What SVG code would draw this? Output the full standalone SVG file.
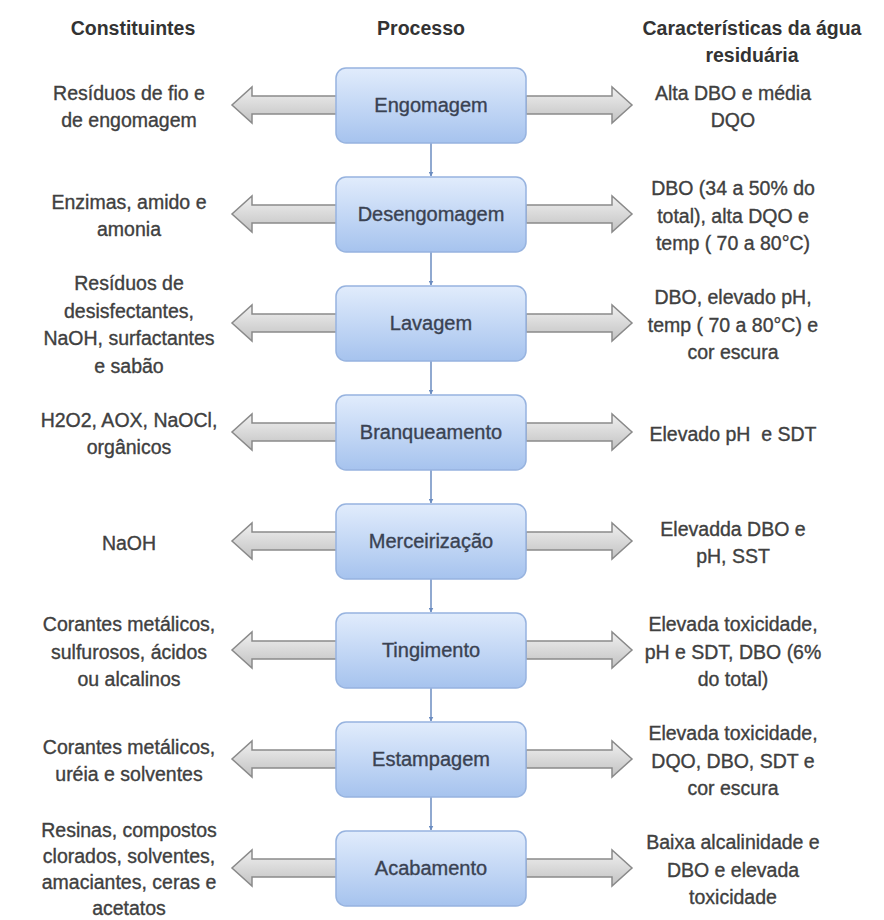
<svg xmlns="http://www.w3.org/2000/svg" width="884" height="920" viewBox="0 0 884 920">
<defs>
<linearGradient id="boxg" x1="0" y1="0" x2="0" y2="1">
<stop offset="0" stop-color="#e1ecfc"/>
<stop offset="1" stop-color="#a6c3ee"/>
</linearGradient>
<linearGradient id="arrg" x1="0" y1="0" x2="0" y2="1">
<stop offset="0" stop-color="#f0f0f0"/>
<stop offset="1" stop-color="#c2c2c2"/>
</linearGradient>
<marker id="ah" viewBox="0 0 10 10" refX="9" refY="5" markerWidth="5" markerHeight="5" orient="auto" markerUnits="userSpaceOnUse">
<path d="M0,0 L10,5 L0,10 z" fill="#6b8cc0"/>
</marker>
<style>
.box{fill:url(#boxg);stroke:#97b3df;stroke-width:1.5}
.arr{fill:url(#arrg);stroke:#8a8a8a;stroke-width:1.5;stroke-linejoin:miter}
.hd{font-family:"Liberation Sans",Arial,sans-serif;font-size:19.5px;font-weight:bold;fill:#333;text-anchor:middle}
.t{font-family:"Liberation Sans",Arial,sans-serif;font-size:19.5px;fill:#404040;stroke:#404040;stroke-width:0.35;text-anchor:middle}
.bt{font-family:"Liberation Sans",Arial,sans-serif;font-size:20px;fill:#3a4252;stroke:#3a4252;stroke-width:0.35;text-anchor:middle}
.con{stroke:#6b8cc0;stroke-width:1.5;fill:none}
</style>
</defs>
<rect width="884" height="920" fill="#ffffff"/>

<g id="headers">
<text class="hd" x="133" y="35">Constituintes</text>
<text class="hd" x="421" y="35">Processo</text>
<text class="hd" x="752" y="35">Características da água</text>
<text class="hd" x="752" y="62">residuária</text>
</g>

<g id="connectors">
<line class="con" x1="431" y1="143" x2="431" y2="176" marker-end="url(#ah)"/>
<line class="con" x1="431" y1="252" x2="431" y2="285" marker-end="url(#ah)"/>
<line class="con" x1="431" y1="361" x2="431" y2="394" marker-end="url(#ah)"/>
<line class="con" x1="431" y1="470" x2="431" y2="503" marker-end="url(#ah)"/>
<line class="con" x1="431" y1="579" x2="431" y2="612" marker-end="url(#ah)"/>
<line class="con" x1="431" y1="688" x2="431" y2="721" marker-end="url(#ah)"/>
<line class="con" x1="431" y1="797" x2="431" y2="830" marker-end="url(#ah)"/>
<polygon class="arr" points="337,96 252,96 252,87 232,105 252,123 252,114 337,114"/>
<polygon class="arr" points="526,96 612,96 612,87 632,105 612,123 612,114 526,114"/>
<polygon class="arr" points="337,205 252,205 252,196 232,214 252,232 252,223 337,223"/>
<polygon class="arr" points="526,205 612,205 612,196 632,214 612,232 612,223 526,223"/>
<polygon class="arr" points="337,314 252,314 252,305 232,323 252,341 252,332 337,332"/>
<polygon class="arr" points="526,314 612,314 612,305 632,323 612,341 612,332 526,332"/>
<polygon class="arr" points="337,423 252,423 252,414 232,432 252,450 252,441 337,441"/>
<polygon class="arr" points="526,423 612,423 612,414 632,432 612,450 612,441 526,441"/>
<polygon class="arr" points="337,532 252,532 252,523 232,541 252,559 252,550 337,550"/>
<polygon class="arr" points="526,532 612,532 612,523 632,541 612,559 612,550 526,550"/>
<polygon class="arr" points="337,641 252,641 252,632 232,650 252,668 252,659 337,659"/>
<polygon class="arr" points="526,641 612,641 612,632 632,650 612,668 612,659 526,659"/>
<polygon class="arr" points="337,750 252,750 252,741 232,759 252,777 252,768 337,768"/>
<polygon class="arr" points="526,750 612,750 612,741 632,759 612,777 612,768 526,768"/>
<polygon class="arr" points="337,859 252,859 252,850 232,868 252,886 252,877 337,877"/>
<polygon class="arr" points="526,859 612,859 612,850 632,868 612,886 612,877 526,877"/>
</g>

<g id="engomagem">
<rect class="box" x="336" y="68" width="190" height="75" rx="10"/>
<text class="bt" x="431" y="112">Engomagem</text>
<text class="t"><tspan x="129" y="100">Resíduos de fio e</tspan><tspan x="129" y="127">de engomagem</tspan></text>
<text class="t"><tspan x="733" y="100">Alta DBO e média</tspan><tspan x="733" y="127">DQO</tspan></text>
</g>

<g id="desengomagem">
<rect class="box" x="336" y="177" width="190" height="75" rx="10"/>
<text class="bt" x="431" y="221">Desengomagem</text>
<text class="t"><tspan x="129" y="209">Enzimas, amido e</tspan><tspan x="129" y="236">amonia</tspan></text>
<text class="t"><tspan x="733" y="195">DBO (34 a 50% do</tspan><tspan x="733" y="222.5">total), alta DQO e</tspan><tspan x="733" y="250">temp ( 70 a 80°C)</tspan></text>
</g>

<g id="lavagem">
<rect class="box" x="336" y="286" width="190" height="75" rx="10"/>
<text class="bt" x="431" y="330">Lavagem</text>
<text class="t"><tspan x="129" y="290">Resíduos de</tspan><tspan x="129" y="318">desisfectantes,</tspan><tspan x="129" y="345">NaOH, surfactantes</tspan><tspan x="129" y="373">e sabão</tspan></text>
<text class="t"><tspan x="733" y="304">DBO, elevado pH,</tspan><tspan x="733" y="331.5">temp ( 70 a 80°C) e</tspan><tspan x="733" y="359">cor escura</tspan></text>
</g>

<g id="branqueamento">
<rect class="box" x="336" y="395" width="190" height="75" rx="10"/>
<text class="bt" x="431" y="439">Branqueamento</text>
<text class="t"><tspan x="129" y="427">H2O2, AOX, NaOCl,</tspan><tspan x="129" y="454">orgânicos</tspan></text>
<text class="t"><tspan x="733" y="440.5" xml:space="preserve">Elevado pH  e SDT</tspan></text>
</g>

<g id="merceirizacao">
<rect class="box" x="336" y="504" width="190" height="75" rx="10"/>
<text class="bt" x="431" y="548">Merceirização</text>
<text class="t"><tspan x="129" y="549.5">NaOH</tspan></text>
<text class="t"><tspan x="733" y="536">Elevadda DBO e</tspan><tspan x="733" y="563">pH, SST</tspan></text>
</g>

<g id="tingimento">
<rect class="box" x="336" y="613" width="190" height="75" rx="10"/>
<text class="bt" x="431" y="657">Tingimento</text>
<text class="t"><tspan x="129" y="631">Corantes metálicos,</tspan><tspan x="129" y="658.5">sulfurosos, ácidos</tspan><tspan x="129" y="686">ou alcalinos</tspan></text>
<text class="t"><tspan x="733" y="631">Elevada toxicidade,</tspan><tspan x="733" y="658.5">pH e SDT, DBO (6%</tspan><tspan x="733" y="686">do total)</tspan></text>
</g>

<g id="estampagem">
<rect class="box" x="336" y="722" width="190" height="75" rx="10"/>
<text class="bt" x="431" y="766">Estampagem</text>
<text class="t"><tspan x="129" y="754">Corantes metálicos,</tspan><tspan x="129" y="781">uréia e solventes</tspan></text>
<text class="t"><tspan x="733" y="740">Elevada toxicidade,</tspan><tspan x="733" y="767.5">DQO, DBO, SDT e</tspan><tspan x="733" y="795">cor escura</tspan></text>
</g>

<g id="acabamento">
<rect class="box" x="336" y="831" width="190" height="75" rx="10"/>
<text class="bt" x="431" y="875">Acabamento</text>
<text class="t"><tspan x="129" y="837">Resinas, compostos</tspan><tspan x="129" y="863">clorados, solventes,</tspan><tspan x="129" y="889">amaciantes, ceras e</tspan><tspan x="129" y="915">acetatos</tspan></text>
<text class="t"><tspan x="733" y="849">Baixa alcalinidade e</tspan><tspan x="733" y="876.5">DBO e elevada</tspan><tspan x="733" y="904">toxicidade</tspan></text>
</g>
</svg>
